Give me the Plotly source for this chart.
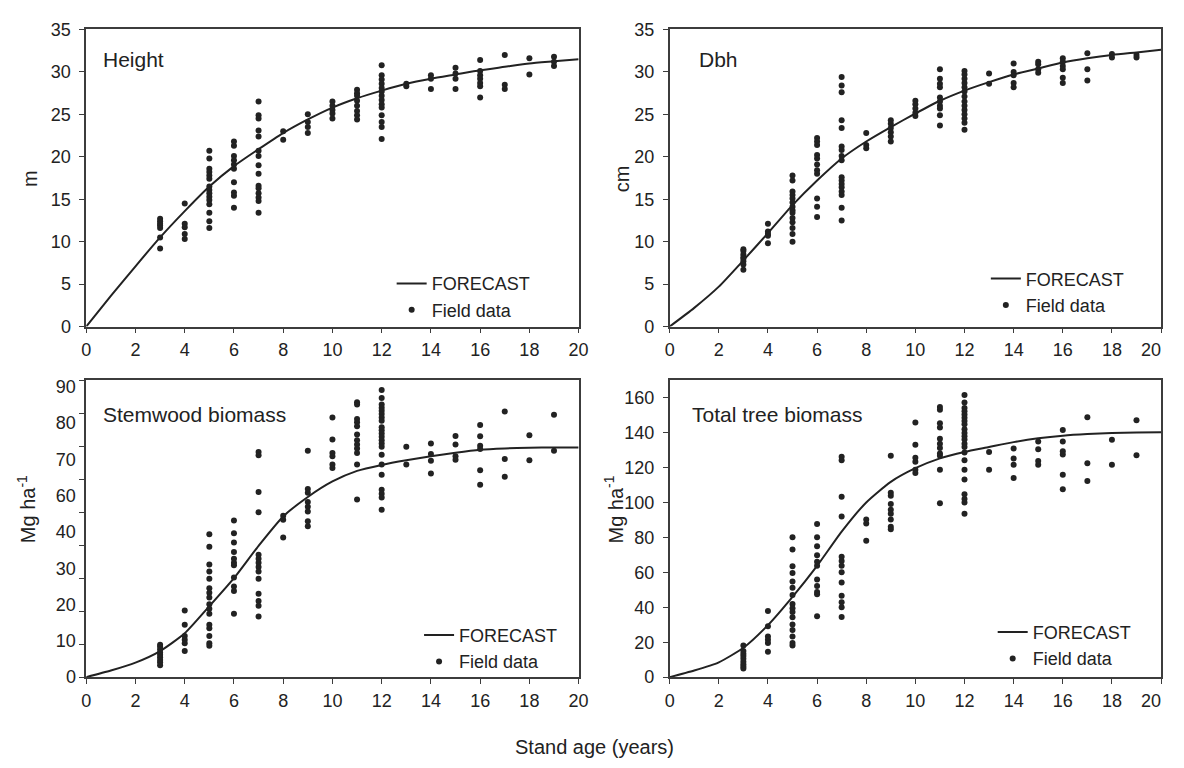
import plotly.graph_objects as go

# ---------------- data ----------------
forecast_age = list(range(0, 21))
height_fc = [0, 3.6, 7.1, 10.5, 13.6, 16.5, 18.9, 20.9, 22.8, 24.4, 25.8, 26.9, 27.8,
             28.6, 29.2, 29.7, 30.2, 30.6, 31.0, 31.25, 31.5]
dbh_fc = [0, 2.2, 4.7, 7.8, 11.0, 14.3, 17.2, 19.8, 21.8, 23.5, 25.1, 26.6, 27.8,
          28.8, 29.7, 30.4, 31.1, 31.6, 32.0, 32.3, 32.6]
stem_fc = [0, 2.0, 4.4, 7.9, 13.3, 21.5, 30.0, 39.8, 48.7, 54.6, 59.3, 62.5, 64.3,
           65.7, 66.9, 68.0, 68.9, 69.3, 69.5, 69.6, 69.6]
total_fc = [0, 3.8, 8.5, 16.8, 29.8, 46.0, 63.7, 83.3, 100.0, 111.8, 119.6, 125.2, 128.9,
            131.7, 134.5, 136.7, 138.2, 139.1, 139.7, 140.0, 140.1]

field_ages = [3, 4, 5, 6, 7, 8, 9, 10, 11, 12, 13, 14, 15, 16, 17, 18, 19]

height_obs = [
    [12.7, 12.4, 12.1, 11.9, 11.6, 10.5, 9.2],
    [14.5, 12.1, 11.7, 10.9, 10.3],
    [20.7, 19.8, 18.6, 18.2, 17.8, 17.4, 16.5, 16.1, 15.7, 15.3, 14.9, 14.4, 13.4, 12.4, 11.6],
    [21.8, 21.3, 20.1, 19.6, 19.1, 18.6, 17.0, 15.8, 15.4, 14.0],
    [26.5, 24.9, 24.5, 23.1, 22.4, 20.7, 20.1, 19.0, 18.0, 16.6, 16.3, 15.7, 15.2, 14.8, 13.4],
    [23.0, 22.0],
    [25.0, 24.1, 23.5, 22.8],
    [26.5, 26.0, 25.5, 25.1, 24.5],
    [27.9, 27.5, 27.2, 26.6, 26.0, 25.4, 24.9, 24.4],
    [30.8, 29.6, 29.1, 28.6, 28.1, 27.7, 27.2, 26.7, 26.2, 25.8, 24.9, 24.1, 23.5, 22.1],
    [28.6, 28.3],
    [29.6, 29.2, 28.0],
    [30.5, 29.8, 29.2, 28.0],
    [31.4, 30.1, 29.6, 29.2, 28.7, 28.3, 27.0],
    [32.0, 28.5, 28.0],
    [31.6, 29.7],
    [31.8, 31.2, 30.7],
]

dbh_obs = [
    [9.1, 8.9, 8.5, 8.2, 8.0, 7.7, 7.3, 6.7],
    [12.1, 11.2, 10.9, 10.7, 9.8],
    [17.8, 17.2, 15.9, 15.5, 15.1, 14.6, 14.1, 13.7, 13.4, 12.8, 12.3, 11.6, 10.9, 10.0],
    [22.2, 21.8, 21.4, 20.2, 19.8, 19.1, 18.4, 18.0, 15.1, 14.1, 12.9],
    [29.4, 28.4, 27.6, 24.3, 23.4, 21.2, 20.8, 20.1, 19.6, 17.6, 17.2, 16.8, 16.4, 15.9, 15.5, 14.0, 12.5],
    [22.8, 21.4, 21.0],
    [24.3, 23.9, 23.4, 22.9, 22.4, 21.8],
    [26.6, 26.2, 25.7, 25.2, 24.8],
    [30.3, 29.2, 28.6, 28.2, 27.0, 26.5, 26.0, 25.7, 24.9, 23.7],
    [30.1, 29.7, 29.2, 28.7, 28.2, 27.7, 27.1, 26.5, 26.0, 25.5, 25.0, 24.5, 24.0, 23.2],
    [29.8, 28.6],
    [31.0, 30.0, 29.6, 28.7, 28.2],
    [31.2, 30.9, 30.3, 29.9],
    [31.6, 31.2, 30.7, 30.3, 29.3, 28.7],
    [32.2, 30.3, 29.0],
    [32.1, 31.7],
    [32.0, 31.7],
]

stem_obs = [
    [9.8, 9.2, 8.4, 7.5, 6.8, 6.0, 5.2, 4.5, 3.6],
    [20.2, 15.9, 12.5, 11.3, 10.3, 7.9],
    [43.3, 39.5, 34.1, 32.0, 29.8, 26.9, 25.6, 24.1, 22.1, 20.7, 19.2, 15.9, 14.8, 12.5, 10.3, 9.5],
    [47.5, 43.6, 40.8, 37.9, 35.9, 34.7, 33.9, 30.2, 27.5, 26.1, 19.2],
    [68.2, 67.2, 56.1, 50.0, 37.1, 35.9, 34.7, 33.4, 32.0, 29.8, 25.3, 23.1, 21.6, 18.4],
    [48.9, 47.7, 42.3],
    [68.6, 57.0, 55.9, 53.1, 51.6, 50.2, 47.2, 45.7],
    [78.7, 72.0, 67.9, 66.9, 64.4, 63.4],
    [83.3, 82.6, 78.2, 77.2, 76.0, 73.5, 71.8, 70.5, 69.3, 67.9, 64.4, 53.8],
    [87.0, 84.6, 82.6, 81.6, 80.7, 79.7, 78.7, 77.7, 75.7, 74.8, 73.8, 72.8, 71.8, 70.8,
     69.8, 67.4, 64.4, 61.3, 56.8, 55.6, 54.4, 50.7],
    [69.8, 64.4],
    [70.8, 67.6, 65.6, 61.7],
    [73.1, 70.5, 66.9, 65.9],
    [76.4, 73.0, 70.1, 69.1, 62.7, 58.3],
    [80.5, 66.1, 60.7],
    [73.3, 65.7],
    [79.5, 68.6],
]

total_obs = [
    [18.1, 14.9, 13.4, 12.1, 10.6, 8.8, 7.4, 6.1, 5.0],
    [37.8, 29.2, 23.3, 21.4, 19.6, 14.5],
    [80.1, 73.0, 63.4, 59.6, 54.8, 51.1, 47.0, 41.8, 39.5, 37.3, 34.3, 30.2, 27.0, 23.3, 19.6, 18.1],
    [87.6, 80.1, 74.9, 69.7, 66.0, 63.7, 55.9, 52.2, 48.8, 47.4, 34.9],
    [126.1, 124.2, 103.2, 92.0, 68.9, 66.5, 63.7, 60.0, 54.1, 46.6, 42.8, 40.0, 34.4],
    [90.2, 87.9, 78.1],
    [126.7, 105.6, 103.8, 99.1, 95.8, 93.5, 90.2, 86.1, 84.6],
    [145.7, 133.0, 125.6, 123.3, 118.7, 116.8],
    [154.6, 153.1, 145.3, 142.9, 136.4, 133.6, 131.1, 128.0, 126.7, 118.7, 99.5],
    [161.5, 157.2, 154.0, 152.2, 150.3, 148.5, 146.6, 144.7, 141.9, 139.7, 137.8, 136.0,
     133.6, 131.7, 128.5, 124.2, 118.7, 113.1, 104.7, 101.9, 100.0, 93.5],
    [128.9, 118.7],
    [130.8, 125.2, 121.5, 114.0],
    [134.9, 130.4, 123.7, 121.5],
    [141.4, 134.9, 129.3, 127.4, 115.9, 107.5],
    [148.8, 122.4, 112.2],
    [135.8, 121.5],
    [147.0, 127.0],
]

panel_titles = ["Height", "Dbh", "Stemwood biomass", "Total tree biomass"]
y_titles = ["m", "cm", "Mg ha<sup>-1</sup>", "Mg ha<sup>-1</sup>"]
x_ticks = [0, 2, 4, 6, 8, 10, 12, 14, 16, 18, 20]
x_tick_labels = ["0", "2", "4", "6", "8", "10", "12", "14", "16", "18", "20"]
stem_tick_marks = [0, 10, 20, 30, 40, 50, 60, 70, 80, 90]
stem_tick_labels = ["0", "10", "20", "30", "40", "60", "70", "80", "90"]
total_ticks = [0, 20, 40, 60, 80, 100, 120, 140, 160]


def expand(obs):
    xs, ys = [], []
    for a, vals in zip(field_ages, obs):
        for v in vals:
            xs.append(a)
            ys.append(v)
    return xs, ys


FONT = "Liberation Sans, Arial, sans-serif"
INK = "#222222"
AXC = "#3c3c3c"
W, H = 1184, 768

fig = go.Figure()

panels = [
    (height_fc, height_obs),
    (dbh_fc, dbh_obs),
    (stem_fc, stem_obs),
    (total_fc, total_obs),
]
legend_names = ["legend", "legend2", "legend3", "legend4"]

for i, (fc, obs) in enumerate(panels):
    xa = "x" if i == 0 else f"x{i+1}"
    ya = "y" if i == 0 else f"y{i+1}"
    fig.add_trace(go.Scatter(
        x=forecast_age, y=fc, mode="lines", name="FORECAST",
        line=dict(color=INK, width=2, shape="spline", smoothing=0.6),
        xaxis=xa, yaxis=ya, legend=legend_names[i], hoverinfo="skip"))
    ox, oy = expand(obs)
    fig.add_trace(go.Scatter(
        x=ox, y=oy, mode="markers", name="Field data",
        marker=dict(color=INK, size=6, line=dict(width=0)),
        xaxis=xa, yaxis=ya, legend=legend_names[i]))

# domains (pixel based)
xdom_left = [83 / W, 586 / W]
xdom_right = [679 / W, 1181 / W]
ydom_top = [(H - 325) / H, (H - 20) / H]
ydom_bot = [(H - 685) / H, (H - 380) / H]

axis_common = dict(
    showline=True, mirror=True, linecolor=AXC, linewidth=1.5,
    ticks="outside", ticklen=5, tickwidth=1.2, tickcolor=AXC,
    showgrid=False, zeroline=False,
    tickfont=dict(family=FONT, size=18, color=INK),
)

layout = dict(
    width=W, height=H,
    margin=dict(l=0, r=0, t=0, b=0),
    paper_bgcolor="white", plot_bgcolor="white",
    font=dict(family=FONT, size=18, color=INK),
    showlegend=True,
)

doms = [(xdom_left, ydom_top), (xdom_right, ydom_top),
        (xdom_left, ydom_bot), (xdom_right, ydom_bot)]
for i, (xd, yd) in enumerate(doms):
    xk = "xaxis" if i == 0 else f"xaxis{i+1}"
    yk = "yaxis" if i == 0 else f"yaxis{i+1}"
    ya = "y" if i == 0 else f"y{i+1}"
    xa = "x" if i == 0 else f"x{i+1}"
    labels = list(x_tick_labels)
    if i in (1, 3):
        # last label sits just inside the figure edge, as in the original
        labels[-1] = labels[-1] + "\u00a0" * 4
    layout[xk] = dict(axis_common, domain=xd, anchor=ya, range=[0, 20],
                      tickmode="array", tickvals=x_ticks, ticktext=labels,
                      ticklabelstandoff=1, ticklabeloverflow="allow")
    ycfg = dict(axis_common, domain=yd, anchor=xa, ticklabelstandoff=5)
    if i < 2:
        ycfg.update(range=[0, 35], tickmode="linear", tick0=0, dtick=5)
    elif i == 2:
        # original figure prints 9 evenly spaced labels against 10 tick marks
        n = len(stem_tick_labels)
        label_pos = [88 * k / (n - 1) for k in range(n)]
        ycfg.update(range=[0, 90], tickmode="array", tickvals=label_pos,
                    ticktext=stem_tick_labels, ticks="",
                    minor=dict(tickmode="array", tickvals=stem_tick_marks,
                               ticks="outside", ticklen=5, tickwidth=1.2,
                               tickcolor=AXC, showgrid=False))
    else:
        ycfg.update(range=[0, 170], tickmode="array", tickvals=total_ticks)
    layout[yk] = ycfg

legend_pos = [(395, 262), (1002, 257), (423, 623), (1009, 620)]
for name, (lx, ly) in zip(legend_names, legend_pos):
    layout[name] = dict(x=lx / W, y=(H - ly) / H, xanchor="left", yanchor="top",
                        bgcolor="rgba(0,0,0,0)", borderwidth=0,
                        font=dict(family=FONT, size=18, color=INK),
                        tracegroupgap=0, itemwidth=30)

fig.update_layout(**layout)

# panel labels
panel_label_pos = [(98, 51), (707, 51), (98, 415), (700, 415)]
for txt, (px, py) in zip(panel_titles, panel_label_pos):
    fig.add_annotation(text=txt, x=px / W, y=(H - py) / H, xref="paper", yref="paper",
                       xanchor="left", yanchor="middle", showarrow=False,
                       font=dict(family=FONT, size=21, color=INK))

# y-axis titles
ytitle_pos = [(26, 173), (631, 173), (22, 513), (622, 513)]
for txt, (px, py) in zip(y_titles, ytitle_pos):
    fig.add_annotation(text=txt, x=px / W, y=(H - py) / H, xref="paper", yref="paper",
                       xanchor="center", yanchor="middle", showarrow=False, textangle=-90,
                       font=dict(family=FONT, size=20, color=INK))

# common x title
fig.add_annotation(text="Stand age (years)", x=602 / W, y=(H - 757) / H,
                   xref="paper", yref="paper", xanchor="center", yanchor="middle",
                   showarrow=False, font=dict(family=FONT, size=20, color=INK))

fig.write_html("out.html",
               config={"displayModeBar": False},
               post_script="document.body.style.margin='0px';document.body.style.overflow='hidden';")
